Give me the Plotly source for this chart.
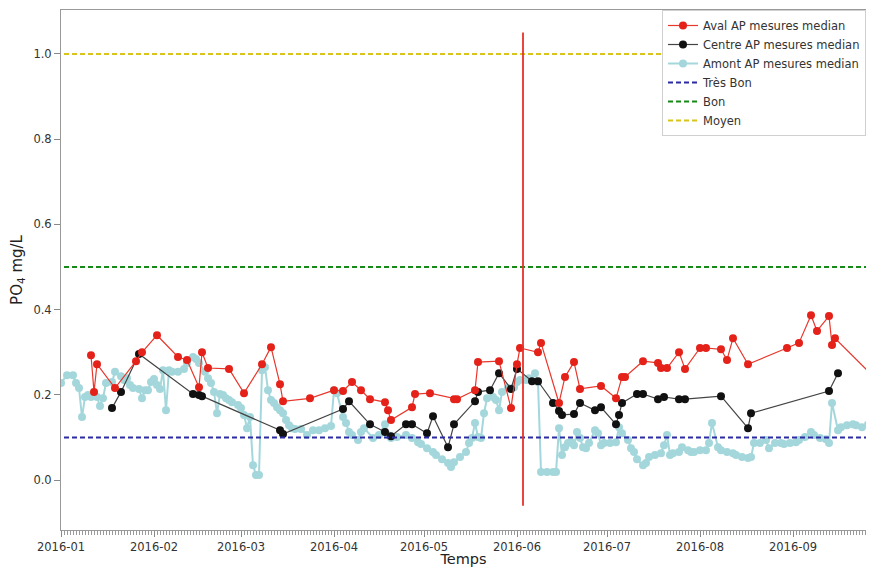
import pandas as pd
import plotly.graph_objects as go

# Aval (red)
aval_dates = [
    "2016-01-11", "2016-01-12", "2016-01-13", "2016-01-19", "2016-01-26", "2016-01-28",
    "2016-02-02", "2016-02-09", "2016-02-12", "2016-02-16", "2016-02-17", "2016-02-19",
    "2016-02-26", "2016-03-02", "2016-03-08", "2016-03-11", "2016-03-14", "2016-03-15",
    "2016-03-24", "2016-04-01", "2016-04-04", "2016-04-07", "2016-04-10", "2016-04-13",
    "2016-04-18", "2016-04-19", "2016-04-20", "2016-04-27", "2016-04-28", "2016-05-03",
    "2016-05-11", "2016-05-12", "2016-05-18", "2016-05-19", "2016-05-26", "2016-05-30",
    "2016-06-01", "2016-06-02", "2016-06-08", "2016-06-09", "2016-06-15", "2016-06-17",
    "2016-06-20", "2016-06-22", "2016-06-29", "2016-07-04", "2016-07-06", "2016-07-07",
    "2016-07-13", "2016-07-18", "2016-07-19", "2016-07-21", "2016-07-25", "2016-07-27",
    "2016-08-01", "2016-08-03", "2016-08-08", "2016-08-10", "2016-08-12", "2016-08-17",
    "2016-08-30", "2016-09-03", "2016-09-07", "2016-09-09", "2016-09-13", "2016-09-14",
    "2016-09-15", "2016-09-29",
]
aval_values = [
    0.293, 0.207, 0.272, 0.216, 0.279, 0.300,
    0.340, 0.289, 0.282, 0.218, 0.300, 0.263,
    0.261, 0.204, 0.272, 0.312, 0.225, 0.185,
    0.192, 0.211, 0.209, 0.230, 0.211, 0.190,
    0.183, 0.164, 0.141, 0.171, 0.202, 0.204,
    0.190, 0.190, 0.211, 0.277, 0.279, 0.169,
    0.272, 0.310, 0.300, 0.322, 0.181, 0.242,
    0.277, 0.214, 0.221, 0.192, 0.242, 0.242,
    0.279, 0.275, 0.263, 0.263, 0.300, 0.261,
    0.310, 0.310, 0.307, 0.282, 0.333, 0.272,
    0.310, 0.322, 0.387, 0.350, 0.385, 0.317,
    0.333, 0.235,
]

# Centre (black)
centre_dates = [
    "2016-01-18", "2016-01-21", "2016-01-27", "2016-02-14", "2016-02-16", "2016-02-17",
    "2016-03-14", "2016-03-15", "2016-04-04", "2016-04-06", "2016-04-13", "2016-04-18",
    "2016-04-20", "2016-04-25", "2016-04-27", "2016-05-02", "2016-05-04", "2016-05-09",
    "2016-05-11", "2016-05-18", "2016-05-19", "2016-05-23", "2016-05-26", "2016-05-30",
    "2016-06-01", "2016-06-06", "2016-06-08", "2016-06-13", "2016-06-15", "2016-06-16",
    "2016-06-20", "2016-06-22", "2016-06-27", "2016-06-29", "2016-07-04", "2016-07-05",
    "2016-07-06", "2016-07-11", "2016-07-13", "2016-07-18", "2016-07-20", "2016-07-25",
    "2016-07-27", "2016-08-08", "2016-08-17", "2016-08-18", "2016-09-13", "2016-09-16",
]
centre_values = [
    0.169, 0.207, 0.296, 0.202, 0.200, 0.197,
    0.117, 0.108, 0.167, 0.185, 0.131, 0.113,
    0.103, 0.131, 0.131, 0.110, 0.150, 0.077,
    0.131, 0.185, 0.207, 0.211, 0.251, 0.214,
    0.261, 0.232, 0.232, 0.181, 0.162, 0.153,
    0.155, 0.181, 0.164, 0.171, 0.131, 0.153,
    0.181, 0.202, 0.202, 0.190, 0.195, 0.190,
    0.190, 0.197, 0.122, 0.157, 0.209, 0.251,
]

# Amont (light blue)
amont_dates = [
    "2016-01-01", "2016-01-03", "2016-01-05", "2016-01-06", "2016-01-07", "2016-01-08",
    "2016-01-09", "2016-01-10", "2016-01-11", "2016-01-13", "2016-01-14", "2016-01-15",
    "2016-01-16", "2016-01-18", "2016-01-19", "2016-01-21", "2016-01-22", "2016-01-23",
    "2016-01-24", "2016-01-25", "2016-01-27", "2016-01-28", "2016-01-29", "2016-01-30",
    "2016-01-31", "2016-02-01", "2016-02-02", "2016-02-03", "2016-02-04", "2016-02-05",
    "2016-02-06", "2016-02-07", "2016-02-09", "2016-02-11", "2016-02-12", "2016-02-14",
    "2016-02-15", "2016-02-16", "2016-02-18", "2016-02-19", "2016-02-20", "2016-02-21",
    "2016-02-22", "2016-02-23", "2016-02-24", "2016-02-25", "2016-02-26", "2016-02-27",
    "2016-02-29", "2016-03-01", "2016-03-02", "2016-03-03", "2016-03-04", "2016-03-05",
    "2016-03-06", "2016-03-07", "2016-03-08", "2016-03-09", "2016-03-10", "2016-03-11",
    "2016-03-12", "2016-03-13", "2016-03-14", "2016-03-15", "2016-03-16", "2016-03-17",
    "2016-03-18", "2016-03-19", "2016-03-21", "2016-03-23", "2016-03-25", "2016-03-27",
    "2016-03-29", "2016-03-31", "2016-04-01", "2016-04-02", "2016-04-04", "2016-04-05",
    "2016-04-06", "2016-04-07", "2016-04-09", "2016-04-10", "2016-04-11", "2016-04-14",
    "2016-04-16", "2016-04-18", "2016-04-19", "2016-04-20", "2016-04-22", "2016-04-25",
    "2016-04-27", "2016-04-29", "2016-04-30", "2016-05-02", "2016-05-04", "2016-05-05",
    "2016-05-07", "2016-05-09", "2016-05-10", "2016-05-11", "2016-05-13", "2016-05-15",
    "2016-05-16", "2016-05-17", "2016-05-18", "2016-05-19", "2016-05-20", "2016-05-21",
    "2016-05-22", "2016-05-24", "2016-05-25", "2016-05-26", "2016-05-27", "2016-05-29",
    "2016-05-31", "2016-06-01", "2016-06-02", "2016-06-04", "2016-06-05", "2016-06-07",
    "2016-06-08", "2016-06-09", "2016-06-11", "2016-06-13", "2016-06-14", "2016-06-15",
    "2016-06-16", "2016-06-17", "2016-06-18", "2016-06-19", "2016-06-20", "2016-06-21",
    "2016-06-22", "2016-06-23", "2016-06-24", "2016-06-25", "2016-06-27", "2016-06-28",
    "2016-06-29", "2016-06-30", "2016-07-02", "2016-07-04", "2016-07-05", "2016-07-06",
    "2016-07-08", "2016-07-09", "2016-07-10", "2016-07-11", "2016-07-13", "2016-07-14",
    "2016-07-15", "2016-07-17", "2016-07-19", "2016-07-20", "2016-07-21", "2016-07-22",
    "2016-07-23", "2016-07-25", "2016-07-26", "2016-07-28", "2016-07-29", "2016-07-30",
    "2016-08-01", "2016-08-03", "2016-08-04", "2016-08-05", "2016-08-07", "2016-08-08",
    "2016-08-10", "2016-08-12", "2016-08-13", "2016-08-15", "2016-08-17", "2016-08-18",
    "2016-08-19", "2016-08-21", "2016-08-23", "2016-08-24", "2016-08-26", "2016-08-28",
    "2016-08-29", "2016-08-31", "2016-09-02", "2016-09-03", "2016-09-05", "2016-09-07",
    "2016-09-08", "2016-09-10", "2016-09-12", "2016-09-13", "2016-09-14", "2016-09-16",
    "2016-09-17", "2016-09-19", "2016-09-21", "2016-09-22", "2016-09-24", "2016-09-26",
    "2016-09-27", "2016-09-29", "2016-10-01",
]
amont_values = [
    0.228, 0.246, 0.246, 0.228, 0.216, 0.148,
    0.195, 0.200, 0.195, 0.195, 0.174, 0.192,
    0.228, 0.230, 0.254, 0.244, 0.235, 0.239,
    0.223, 0.216, 0.214, 0.192, 0.211, 0.211,
    0.230, 0.237, 0.223, 0.214, 0.258, 0.164,
    0.258, 0.254, 0.254, 0.261, 0.275, 0.289,
    0.284, 0.275, 0.254, 0.239, 0.228, 0.207,
    0.157, 0.202, 0.200, 0.192, 0.188, 0.183,
    0.176, 0.169, 0.153, 0.122, 0.148, 0.035,
    0.012, 0.012, 0.258, 0.265, 0.211, 0.188,
    0.181, 0.171, 0.164, 0.157, 0.141, 0.129,
    0.122, 0.120, 0.120, 0.106, 0.117, 0.117,
    0.122, 0.127, 0.211, 0.204, 0.148, 0.134,
    0.113, 0.106, 0.094, 0.113, 0.122, 0.099,
    0.106, 0.131, 0.106, 0.099, 0.101, 0.106,
    0.099, 0.089, 0.085, 0.075, 0.066, 0.059,
    0.049, 0.040, 0.031, 0.042, 0.054, 0.066,
    0.087, 0.099, 0.134, 0.101, 0.099, 0.157,
    0.192, 0.195, 0.188, 0.164, 0.207, 0.216,
    0.218, 0.230, 0.235, 0.235, 0.239, 0.251,
    0.230, 0.019, 0.019, 0.019, 0.019, 0.122,
    0.059, 0.077, 0.087, 0.089, 0.082, 0.113,
    0.099, 0.077, 0.075, 0.087, 0.117, 0.110,
    0.082, 0.087, 0.087, 0.089, 0.124, 0.110,
    0.094, 0.075, 0.066, 0.049, 0.035, 0.040,
    0.054, 0.059, 0.063, 0.082, 0.106, 0.059,
    0.063, 0.066, 0.077, 0.070, 0.066, 0.066,
    0.070, 0.070, 0.087, 0.134, 0.077, 0.070,
    0.066, 0.063, 0.059, 0.054, 0.052, 0.054,
    0.087, 0.087, 0.094, 0.075, 0.087, 0.087,
    0.085, 0.087, 0.089, 0.094, 0.101, 0.113,
    0.106, 0.099, 0.096, 0.087, 0.181, 0.117,
    0.124, 0.129, 0.131, 0.129, 0.124, 0.131,
    0.141, 0.140, 0.130,
]

# quality thresholds
seuil_names = ["Très Bon", "Bon", "Moyen"]
seuil_values = [0.1, 0.5, 1.0]
seuil_colors = ["#2b2ba3", "#168a16", "#d9c41c"]

event_date = "2016-06-03"
x_range = ["2016-01-01", "2016-09-25 08:00"]
y_range = [-0.117, 1.103]

font = "DejaVu Sans"

fig = go.Figure()

fig.add_trace(go.Scatter(
    x=pd.to_datetime(amont_dates), y=amont_values, mode="lines+markers",
    name="Amont AP mesures median", legendrank=3,
    line=dict(color="#a4d7db", width=2),
    marker=dict(color="#a4d7db", size=8),
))
fig.add_trace(go.Scatter(
    x=pd.to_datetime(centre_dates), y=centre_values, mode="lines+markers",
    name="Centre AP mesures median", legendrank=2,
    line=dict(color="#444444", width=1.2),
    marker=dict(color="#111111", size=8),
))
fig.add_trace(go.Scatter(
    x=pd.to_datetime(aval_dates), y=aval_values, mode="lines+markers",
    name="Aval AP mesures median", legendrank=1,
    line=dict(color="#e8372c", width=1.2),
    marker=dict(color="#e5221a", size=8),
))

for k, (nm, v, c) in enumerate(zip(seuil_names, seuil_values, seuil_colors)):
    fig.add_trace(go.Scatter(
        x=["2015-12-01", "2016-12-31"], y=[v, v], mode="lines",
        name=nm, legendrank=4 + k,
        line=dict(color=c, width=2, dash="5px,3px"),
    ))

fig.add_shape(type="line", x0=event_date, x1=event_date, y0=-0.06, y1=1.05,
              xref="x", yref="y", line=dict(color="#e8302a", width=1.8))

# body has an 8px margin: keep the figure inside the window so nothing scrolls
fig.update_layout(
    width=858, height=559,
    margin=dict(l=53, r=0, t=2, b=37),
    plot_bgcolor="white", paper_bgcolor="white",
    font=dict(family=font, size=11.5, color="#333"),
    legend=dict(
        x=1, y=1, xanchor="right", yanchor="top",
        bgcolor="white", bordercolor="#d0d0d0", borderwidth=1,
        font=dict(size=11.5, color="#333"), tracegroupgap=0,
        itemwidth=30,
    ),
    xaxis=dict(
        range=x_range, showgrid=False, zeroline=False,
        showline=True, linecolor="#999", mirror=True, linewidth=1,
        ticks="outside", ticklen=6, tickcolor="#888",
        dtick="M1", tickformat="%Y-%m", tick0="2016-01-01",
        minor=dict(dtick=86400000, ticks="outside", ticklen=4, tickcolor="#999"),
        title=dict(text="Temps", font=dict(size=14.5, color="#222"), standoff=1),
        automargin=False,
    ),
    yaxis=dict(
        range=y_range, showgrid=False, zeroline=False,
        showline=True, linecolor="#999", linewidth=1,
        ticks="outside", ticklen=6, tickcolor="#888",
        tickvals=[0.0, 0.2, 0.4, 0.6, 0.8, 1.0], tickformat=".1f",
        title=dict(text="PO<sub>4</sub> mg/L", font=dict(size=15, color="#222"), standoff=10),
        automargin=False,
    ),
)

fig.write_html("out.html")
